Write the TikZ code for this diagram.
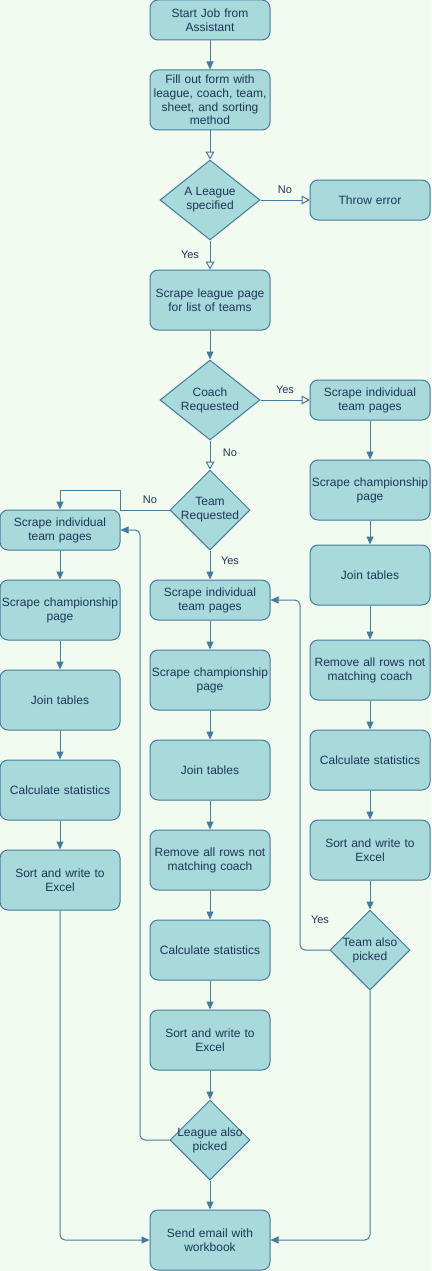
\documentclass[tikz,border=0pt]{standalone}
\usepackage{fontspec}
\setmainfont{Liberation Sans}
\usetikzlibrary{arrows.meta,shapes.geometric}
\definecolor{bgc}{HTML}{F1FAEE}
\definecolor{fillc}{HTML}{A8DADC}
\definecolor{strokec}{HTML}{457B9D}
\definecolor{txtc}{HTML}{1D3557}
\tikzset{
  box/.style={draw=strokec, fill=fillc, rounded corners=8pt, line width=1pt,
    minimum width=120pt, text width=118pt, align=center, inner sep=0pt,
    text=txtc, font=\fontsize{12}{13.8}\selectfont},
  hforty/.style={box, minimum height=40pt},
  hsixty/.style={box, minimum height=60pt},
  dia/.style={diamond, draw=strokec, fill=fillc, line width=1pt, inner sep=0pt},
  dtext/.style={align=center, text=txtc, font=\fontsize{12}{13.8}\selectfont, inner sep=0pt},
  conn/.style={draw=strokec, line width=1pt},
  arr/.style={conn, -{Triangle[length=8pt,width=7pt]}},
  oarr/.style={conn, -{Triangle[open,length=8pt,width=9pt,fill=bgc]}},
  elabel/.style={text=txtc, font=\fontsize{11}{13}\selectfont, inner sep=0pt}
}
\begin{document}
\begin{tikzpicture}[x=1pt,y=-1pt]
\fill[bgc] (0,0) rectangle (431,1271);
\useasboundingbox (0,0) rectangle (431,1271);

% main column
\node[hforty] (start) at (210,20) {Start Job from\\Assistant};
\node[hsixty] (form) at (210,100) {Fill out form with\\league, coach, team,\\sheet, and sorting\\method};
\node[dia, minimum width=100pt, minimum height=80pt] (lg) at (210,200) {};
\node[dtext] (lgt) at (lg.center) {A League\\specified};
\node[hforty] (err) at (370,200) {Throw error};
\node[hsixty] (slp) at (210,300) {Scrape league page\\for list of teams};
\node[dia, minimum width=100pt, minimum height=80pt] (cr) at (210,400) {};
\node[dtext] (crt) at (cr.center) {Coach\\Requested};
\node[dia, minimum width=80pt, minimum height=80pt] (tr) at (210,510) {};
\node[dtext] (trt) at (tr.center) {Team\\Requested};

% right column
\node[hforty] (r1) at (370,400) {Scrape individual\\team pages};
\node[hsixty] (r2) at (370,490) {Scrape championship\\page};
\node[hsixty] (r3) at (370,575) {Join tables};
\node[hsixty] (r4) at (370,670) {Remove all rows not\\matching coach};
\node[hsixty] (r5) at (370,760) {Calculate statistics};
\node[hsixty] (r6) at (370,850) {Sort and write to\\Excel};
\node[dia, minimum width=80pt, minimum height=80pt] (ta) at (370,950) {};
\node[dtext] (tat) at (ta.center) {Team also\\picked};

% left column
\node[hforty] (l1) at (60,530) {Scrape individual\\team pages};
\node[hsixty] (l2) at (60,610) {Scrape championship\\page};
\node[hsixty] (l3) at (60,700) {Join tables};
\node[hsixty] (l4) at (60,790) {Calculate statistics};
\node[hsixty] (l5) at (60,880) {Sort and write to\\Excel};

% middle column
\node[hforty] (m1) at (210,600) {Scrape individual\\team pages};
\node[hsixty] (m2) at (210,680) {Scrape championship\\page};
\node[hsixty] (m3) at (210,770) {Join tables};
\node[hsixty] (m4) at (210,860) {Remove all rows not\\matching coach};
\node[hsixty] (m5) at (210,950) {Calculate statistics};
\node[hsixty] (m6) at (210,1040) {Sort and write to\\Excel};
\node[dia, minimum width=80pt, minimum height=80pt] (la) at (210,1140) {};
\node[dtext] (lat) at (la.center) {League also\\picked};
\node[hsixty] (se) at (210,1240) {Send email with\\workbook};

% coordinates for bends
\coordinate (k1) at (120,490);
\coordinate (k2) at (140,530);
\coordinate (k3) at (300,600);

% connectors
\draw[arr] (start) -- (form);
\draw[oarr] (form) -- (lg.north);
\draw[oarr] (lg.east) -- (err.west);
\node[elabel] (lno) at (285,190) {No};
\draw[oarr] (lg.south) -- (slp.north);
\node[elabel] (lyes) at (190,255) {Yes};
\draw[arr] (slp) -- (cr.north);
\draw[oarr] (cr.east) -- (r1.west);
\node[elabel] (cyes) at (285,390) {Yes};
\draw[oarr] (cr.south) -- (tr.north);
\node[elabel] (cno) at (230,453) {No};
\draw[arr] (tr.west) -| (k1) -| (l1.north);
\node[elabel] (tno) at (150,500) {No};
\draw[arr] (tr.south) -- (m1.north);
\node[elabel] (tyes) at (230,561) {Yes};

\draw[arr] (r1) -- (r2);
\draw[arr] (r2) -- (r3);
\draw[arr] (r3) -- (r4);
\draw[arr] (r4) -- (r5);
\draw[arr] (r5) -- (r6);
\draw[arr] (r6) -- (ta.north);

\draw[arr] (l1) -- (l2);
\draw[arr] (l2) -- (l3);
\draw[arr] (l3) -- (l4);
\draw[arr] (l4) -- (l5);

\draw[arr] (m1) -- (m2);
\draw[arr] (m2) -- (m3);
\draw[arr] (m3) -- (m4);
\draw[arr] (m4) -- (m5);
\draw[arr] (m5) -- (m6);
\draw[arr] (m6) -- (la.north);
\draw[arr] (la.south) -- (se.north);

\draw[arr, rounded corners=5pt] (la.west) -| (k2) -- (l1.east);
\draw[arr, rounded corners=5pt] (ta.west) -| (k3) -- (m1.east);
\node[elabel] (tayes) at (320,920) {Yes};
\draw[arr, rounded corners=5pt] (l5.south) |- (se.west);
\draw[arr, rounded corners=5pt] (ta.south) |- (se.east);
\end{tikzpicture}
\end{document}
